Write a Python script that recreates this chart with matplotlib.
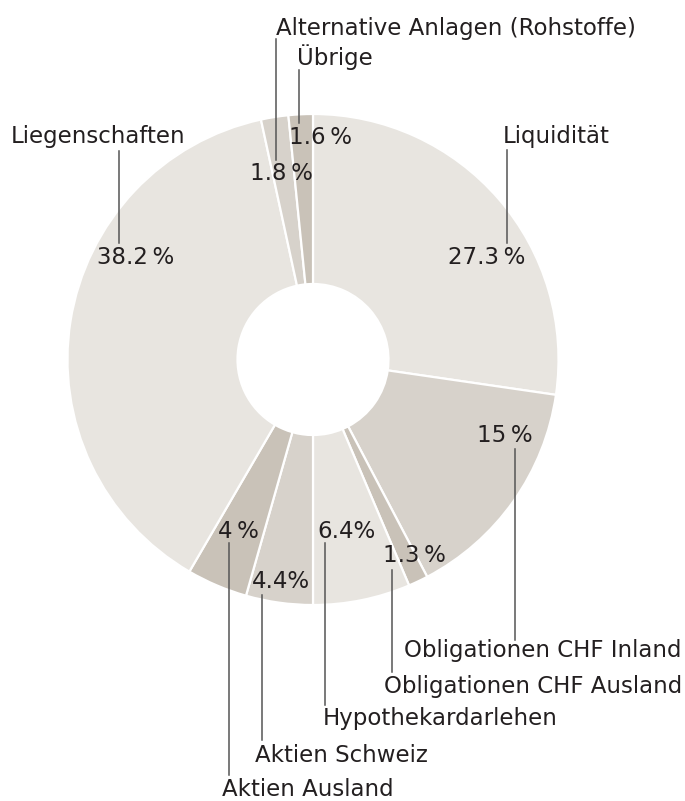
import matplotlib
matplotlib.use("Agg")
from matplotlib import pyplot as plt

# Portfolio allocation, clockwise from 12 o'clock
categories = ['Liquidität', 'Obligationen CHF Inland', 'Obligationen CHF Ausland',
              'Hypothekardarlehen', 'Aktien Schweiz', 'Aktien Ausland',
              'Liegenschaften', 'Alternative Anlagen (Rohstoffe)', 'Übrige']
shares = [27.3, 15, 1.3, 6.4, 4.4, 4, 38.2, 1.8, 1.6]
share_labels = ['27.3\u2009%', '15\u2009%', '1.3\u2009%', '6.4%', '4.4%',
                '4\u2009%', '38.2\u2009%', '1.8\u2009%', '1.6\u2009%']

colors = ['#e8e5e0', '#d7d2cb', '#c9c2b8'] * 3

W, H = 685, 801


def fy(py):
    # pixel row (top-down) -> data y (bottom-up)
    return H - py


# layout: percent label centre, category label anchor, leader line (x, top, bottom)
pct_pos = [(487, 257), (505, 435), (414, 556), (347, 531), (281, 582),
           (238, 532), (136, 257), (281, 173), (321, 138)]
cat_pos = [(503, 136, 'left'), (682, 651, 'right'), (682, 686, 'right'),
           (323, 719, 'left'), (255, 755, 'left'), (222, 789, 'left'),
           (11, 136, 'left'), (276, 28, 'left'), (297, 57, 'left')]
leaders = [(507, 150, 243), (515, 449, 640), (392, 570, 672), (325, 543, 705),
           (262, 595, 740), (229, 543, 775), (119, 151, 243), (276, 39, 160),
           (299, 70, 123)]

fig = plt.figure(figsize=(W / 100, H / 100), dpi=100)
ax = fig.add_axes([0, 0, 1, 1])

cx, cy, r = 313, fy(359.5), 245.5
ax.pie(shares, colors=colors, startangle=90, counterclock=False,
       center=(cx, cy), radius=r, frame=True,
       wedgeprops=dict(width=170, edgecolor='white', linewidth=1.6))
ax.set_xlim(0, W)
ax.set_ylim(0, H)
ax.set_aspect('equal')
ax.axis('off')

txt = dict(color='#231f20', fontsize=16.5, family='DejaVu Sans')
for lab, (x, y) in zip(share_labels, pct_pos):
    ax.text(x, fy(y), lab, ha='center', va='center', **txt)
for lab, (x, y, ha) in zip(categories, cat_pos):
    ax.text(x, fy(y), lab, ha=ha, va='center', **txt)
for x, y0, y1 in leaders:
    ax.plot([x, x], [fy(y0), fy(y1)], color='#555555', lw=1.1)

plt.savefig('out.png', dpi=100)
plt.close(fig)
